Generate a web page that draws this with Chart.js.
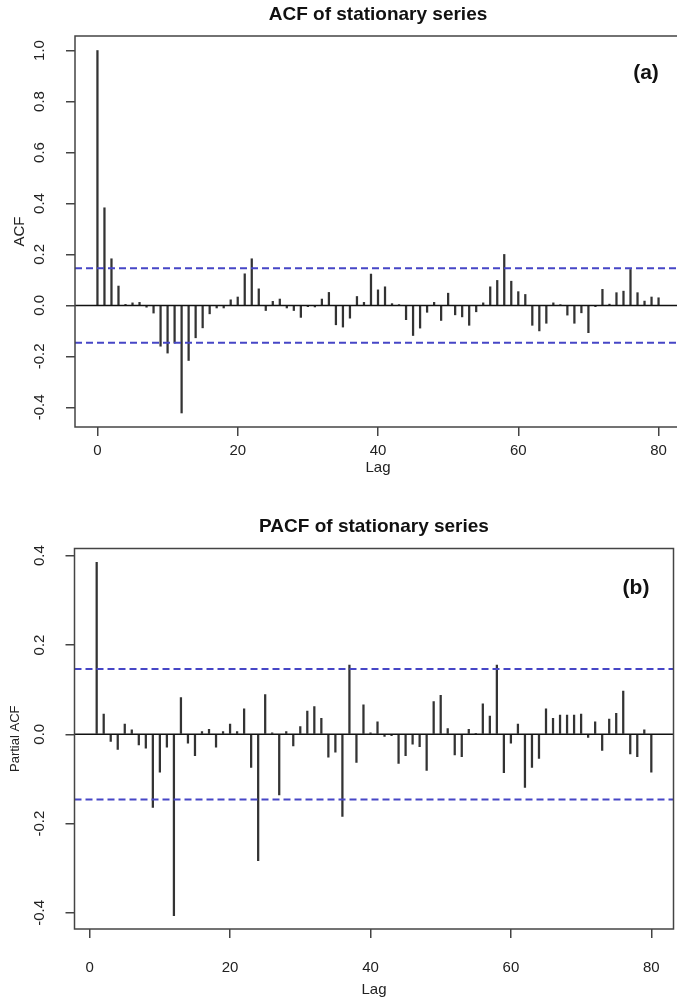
<!DOCTYPE html>
<html>
<head>
<meta charset="utf-8">
<title>ACF / PACF of stationary series</title>
<script src="https://cdn.jsdelivr.net/npm/chart.js@4.4.1/dist/chart.umd.min.js"></script>
<style>
  html, body { margin: 0; padding: 0; background: #fff; overflow: hidden; }
  #wrap { position: relative; width: 677px; height: 1001px; overflow: hidden; }
  canvas { position: absolute; left: 0; }
  #acf { top: 0; }
  #pacf { top: 500px; }
</style>
</head>
<body>
<div id="wrap">
  <canvas id="acf" width="690" height="500"></canvas>
  <canvas id="pacf" width="690" height="501"></canvas>
</div>
<script>
// autocorrelations, lags 0..80
const acfLags = Array.from({ length: 81 }, (_, i) => i);
const acfValues = [
  1.0, 0.383, 0.183, 0.076, 0.004, 0.01, 0.012, -0.007, -0.03, -0.16,
  -0.187, -0.148, -0.422, -0.216, -0.127, -0.088, -0.033, -0.01, -0.01, 0.022,
  0.033, 0.124, 0.183, 0.065, -0.02, 0.016, 0.025, -0.01, -0.02, -0.047,
  -0.005, -0.006, 0.025, 0.051, -0.076, -0.085, -0.05, 0.035, 0.012, 0.123,
  0.061, 0.073, 0.007, 0.003, -0.056, -0.118, -0.089, -0.027, 0.012, -0.059,
  0.048, -0.037, -0.045, -0.078, -0.025, 0.01, 0.073, 0.098, 0.2, 0.095,
  0.054, 0.043, -0.078, -0.1, -0.07, 0.01, 0.002, -0.038, -0.07, -0.029,
  -0.107, -0.005, 0.063, 0.005, 0.05, 0.056, 0.141, 0.05, 0.017, 0.033,
  0.03
];

// partial autocorrelations, lags 1..80
const pacfLags = Array.from({ length: 80 }, (_, i) => i + 1);
const pacfValues = [
  0.385, 0.045, -0.016, -0.034, 0.023, 0.01, -0.024, -0.031, -0.164, -0.085,
  -0.029, -0.406, 0.082, -0.02, -0.048, 0.006, 0.011, -0.029, 0.006, 0.023,
  0.006, 0.057, -0.074, -0.283, 0.089, 0.003, -0.136, 0.006, -0.026, 0.017,
  0.052, 0.062, 0.036, -0.051, -0.04, -0.184, 0.155, -0.063, 0.066, 0.003,
  0.028, -0.005, -0.003, -0.065, -0.048, -0.022, -0.028, -0.081, 0.073, 0.087,
  0.013, -0.046, -0.05, 0.011, 0.002, 0.068, 0.041, 0.155, -0.086, -0.02,
  0.023, -0.119, -0.074, -0.054, 0.057, 0.036, 0.043, 0.043, 0.043, 0.045,
  -0.007, 0.028, -0.036, 0.034, 0.047, 0.097, -0.044, -0.05, 0.01, -0.085
];

// 95% white-noise bound, 1.96/sqrt(n)
const confBound = 0.146;

const lagTicks = [0, 20, 40, 60, 80];
const acfTicks = [-0.4, -0.2, 0.0, 0.2, 0.4, 0.6, 0.8, 1.0];
const pacfTicks = [-0.4, -0.2, 0.0, 0.2, 0.4];

Chart.defaults.font.family = '"Liberation Sans", Arial, Helvetica, sans-serif';
Chart.defaults.color = '#222';

// box round the plot region plus the panel letter
const frame = {
  id: 'frame',
  afterDatasetsDraw(chart, args, opts) {
    const { ctx, chartArea: a } = chart;
    ctx.save();
    ctx.strokeStyle = '#444';
    ctx.lineWidth = 1.5;
    ctx.strokeRect(a.left, a.top, a.right - a.left, a.bottom - a.top);
    ctx.fillStyle = '#111';
    ctx.font = 'bold 21px "Liberation Sans", Arial, sans-serif';
    ctx.textAlign = 'center';
    ctx.textBaseline = 'middle';
    ctx.fillText(opts.tag, opts.x, opts.y);
    ctx.restore();
  }
};

const hline = (y, xMin, xMax, color, width, dash) => ({
  type: 'line',
  data: [{ x: xMin, y }, { x: xMax, y }],
  borderColor: color,
  borderWidth: width,
  borderDash: dash,
  pointRadius: 0,
  fill: false,
  order: 1
});

function lagChart(id, o) {
  return new Chart(document.getElementById(id), {
    type: 'bar',
    data: {
      datasets: [
        {
          type: 'bar',
          data: o.lags.map((lag, i) => ({ x: lag, y: o.values[i] })),
          backgroundColor: '#333',
          borderWidth: 0,
          barThickness: 1.6,
          order: 2
        },
        hline(0, o.xMin, o.xMax, '#111', 1.5, []),
        hline(confBound, o.xMin, o.xMax, '#4646c6', 2, [7, 4]),
        hline(-confBound, o.xMin, o.xMax, '#4646c6', 2, [7, 4])
      ]
    },
    plugins: [frame],
    options: {
      responsive: false,
      animation: false,
      layout: { padding: o.padding },
      plugins: {
        legend: { display: false },
        tooltip: { enabled: false },
        title: {
          display: true,
          text: o.title,
          fullSize: false,
          color: '#111',
          font: { size: 19, weight: 'bold' },
          padding: o.titlePadding
        },
        frame: o.tag
      },
      scales: {
        x: {
          type: 'linear',
          min: o.xMin,
          max: o.xMax,
          offset: false,
          afterBuildTicks: s => { s.ticks = lagTicks.map(v => ({ value: v })); },
          afterFit: s => { s.height = o.xAxisHeight; },
          grid: { offset: false, drawOnChartArea: false, drawTicks: true, tickLength: 9, color: '#444', lineWidth: 1.5 },
          border: { display: false },
          ticks: { font: { size: 15 }, padding: o.xTickPad, maxRotation: 0, callback: v => String(v) },
          title: { display: true, text: 'Lag', font: { size: 15 }, padding: { top: 0, bottom: o.xTitlePad } }
        },
        y: {
          type: 'linear',
          min: o.yMin,
          max: o.yMax,
          afterBuildTicks: s => { s.ticks = o.yTicks.map(v => ({ value: v })); },
          afterFit: s => { s.width = o.yAxisWidth; },
          grid: { drawOnChartArea: false, drawTicks: true, tickLength: 9, color: '#444', lineWidth: 1.5 },
          border: { display: false },
          ticks: {
            font: { size: 15 },
            minRotation: 90,
            maxRotation: 90,
            crossAlign: 'center',
            padding: 13,
            callback: v => v.toFixed(1)
          },
          title: { display: true, text: o.yTitle, font: { size: o.yTitleSize }, padding: { top: o.yTitlePad, bottom: 0 } }
        }
      }
    }
  });
}

lagChart('acf', {
  lags: acfLags,
  values: acfValues,
  title: 'ACF of stationary series',
  yTitle: 'ACF',
  yTitleSize: 15,
  yTitlePad: 11,
  yTicks: acfTicks,
  xMin: -3.2, xMax: 83.2,
  yMin: -0.477, yMax: 1.057,
  yAxisWidth: 75,
  xAxisHeight: 56,
  xTickPad: 6,
  xTitlePad: 6,
  padding: { top: 0, right: 9, bottom: 17, left: 0 },
  titlePadding: { top: 3.6, bottom: 9.6 },
  tag: { tag: '(a)', x: 646, y: 73 }
});

lagChart('pacf', {
  lags: pacfLags,
  values: pacfValues,
  title: 'PACF of stationary series',
  yTitle: 'Partial ACF',
  yTitleSize: 13,
  yTitlePad: 8,
  yTicks: pacfTicks,
  xMin: -2.16, xMax: 83.16,
  yMin: -0.436, yMax: 0.416,
  yAxisWidth: 74.5,
  xAxisHeight: 72,
  xTickPad: 21,
  xTitlePad: 2,
  padding: { top: 0, right: 16.5, bottom: 0, left: 0 },
  titlePadding: { top: 15.6, bottom: 10.1 },
  tag: { tag: '(b)', x: 636, y: 88 }
});
</script>
</body>
</html>
